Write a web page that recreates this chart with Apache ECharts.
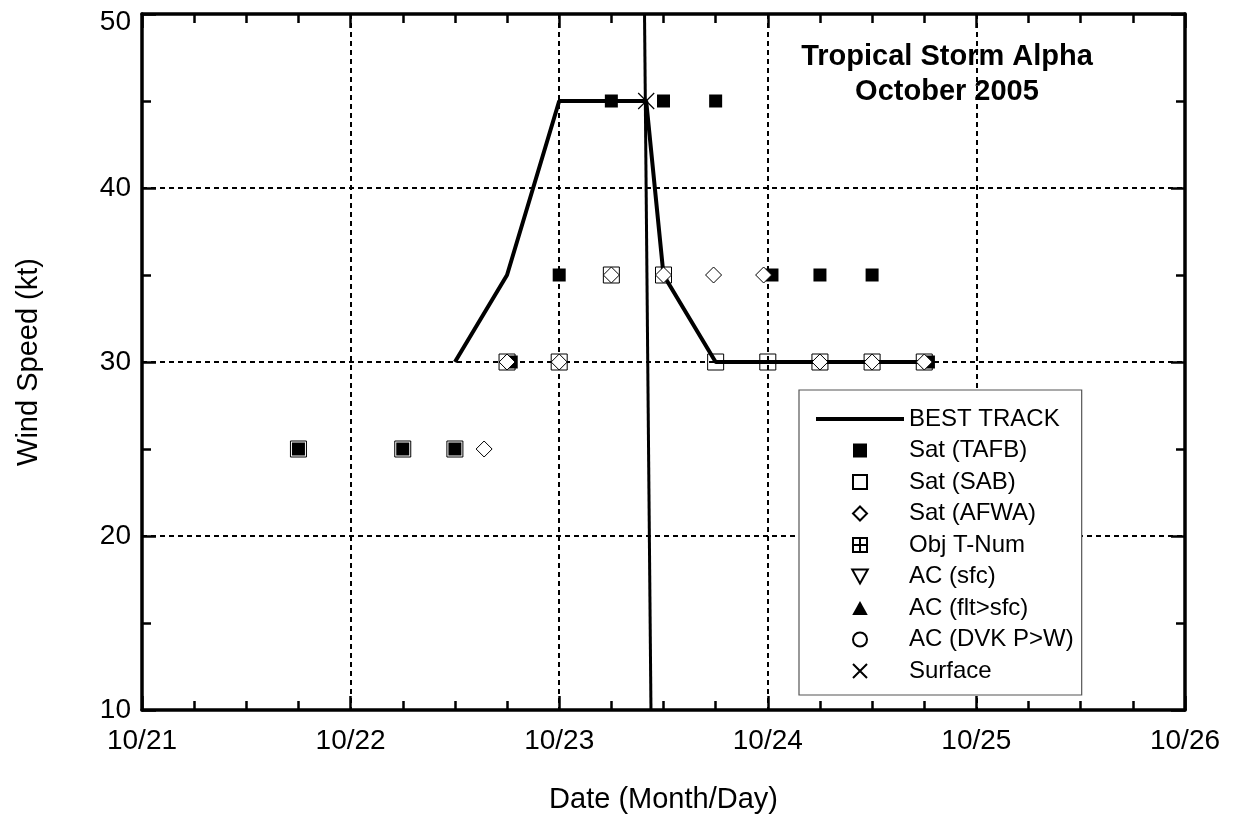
<!DOCTYPE html>
<html>
<head>
<meta charset="utf-8">
<script src="https://cdn.jsdelivr.net/npm/echarts@6/dist/echarts.min.js"></script>
<style>
html,body{margin:0;padding:0;background:#fff;}
#chart{width:1237px;height:819px;}
</style>
</head>
<body>
<div id="chart"></div>
<script>
// ---- data (x = day of October 2005, y = wind speed in kt) ----
const xTicks = [21, 22, 23, 24, 25, 26];
const yTicks = [10, 20, 30, 40, 50];
const bestTrackDays  = [22.5, 22.75, 23.0, 23.25, 23.417, 23.5, 23.75, 24.0, 24.25, 24.5, 24.75];
const bestTrackWinds = [30, 35, 45, 45, 45, 35, 30, 30, 30, 30, 30];
const tafbDays  = [21.75, 22.25, 22.5, 22.77, 23.0, 23.25, 23.5, 23.75, 24.02, 24.25, 24.5, 24.77];
const tafbWinds = [25, 25, 25, 30, 35, 45, 45, 45, 35, 35, 35, 30];
const sabDays  = [21.75, 22.25, 22.5, 22.75, 23.0, 23.25, 23.5, 23.75, 24.0, 24.25, 24.5, 24.75];
const sabWinds = [25, 25, 25, 30, 30, 35, 35, 30, 30, 30, 30, 30];
const afwaDays  = [22.64, 22.75, 23.0, 23.25, 23.5, 23.74, 23.98, 24.25, 24.5, 24.75];
const afwaWinds = [25, 30, 30, 35, 35, 35, 35, 30, 30, 30];
const surfaceDays  = [23.417];
const surfaceWinds = [45];
const landfallDays  = [23.409, 23.44];
const landfallWinds = [50, 10];
const legendNames = ['BEST TRACK', 'Sat (TAFB)', 'Sat (SAB)', 'Sat (AFWA)', 'Obj T-Num', 'AC (sfc)', 'AC (flt>sfc)', 'AC (DVK P>W)', 'Surface'];

const zip = (xs, ys) => xs.map((x, i) => [x, ys[i]]);
const FONT = 'Liberation Sans, Arial, Helvetica, sans-serif';

const SQUARE = 'path://M0,0H10V10H0Z';
const DIAMOND = 'path://M5,0L10,5L5,10L0,5Z';
const GRIDSQ = 'path://M0,0H10V10H0ZM5,0V10M0,5H10';
const TRI_DOWN = 'path://M0,0L10,0L5,9Z';
const TRI_UP = 'path://M5,0L10,9L0,9Z';
const CROSS = 'path://M0,0L10,10M10,0L0,10';

const chart = echarts.init(document.getElementById('chart'), null, {renderer: 'canvas'});

function xAxisBase(pos) {
  return {
    type: 'value', position: pos, min: xTicks[0], max: xTicks[xTicks.length - 1], interval: 1,
    axisLine: {show: true, onZero: false, lineStyle: {color: '#000', width: 3.5}},
    axisTick: {show: true, inside: true, length: 14, lineStyle: {color: '#000', width: 2.5}},
    minorTick: {show: true, splitNumber: 4, length: 9, lineStyle: {color: '#000', width: 2.5}},
    splitLine: {show: false},
    axisLabel: {show: false}
  };
}
function yAxisBase(pos) {
  return {
    type: 'value', position: pos, min: yTicks[0], max: yTicks[yTicks.length - 1], interval: 10,
    axisLine: {show: true, onZero: false, lineStyle: {color: '#000', width: 3.5}},
    axisTick: {show: true, inside: true, length: 14, lineStyle: {color: '#000', width: 2.5}},
    minorTick: {show: true, splitNumber: 2, length: 9, lineStyle: {color: '#000', width: 2.5}},
    splitLine: {show: false},
    axisLabel: {show: false}
  };
}

const xMain = Object.assign(xAxisBase('bottom'), {
  name: 'Date (Month/Day)', nameLocation: 'middle', nameGap: 75,
  nameTextStyle: {color: '#000', fontSize: 29, fontFamily: FONT},
  splitLine: {show: true, lineStyle: {color: '#000', width: 2, type: [5, 4]}},
  axisLabel: {show: true, color: '#000', fontSize: 28, fontFamily: FONT, margin: 17,
    formatter: v => '10/' + v}
});
const yMain = Object.assign(yAxisBase('left'), {
  name: 'Wind Speed (kt)', nameLocation: 'middle', nameGap: 99,
  nameTextStyle: {color: '#000', fontSize: 29, fontFamily: FONT},
  splitLine: {show: true, lineStyle: {color: '#000', width: 2, type: [5, 4]}},
  axisLabel: {show: true, color: '#000', fontSize: 28, fontFamily: FONT, margin: 11,
    formatter: v => v === yTicks[yTicks.length - 1] ? '{top|' + v + '}' : String(v),
    rich: {top: {fontSize: 28, fontFamily: FONT, color: '#000', padding: [16, 0, 0, 0]}}}
});

const openStyle = {color: 'rgba(0,0,0,0)', borderColor: '#000', borderWidth: 1, opacity: 1};

const option = {
  animation: false,
  backgroundColor: '#fff',
  title: {
    text: 'Tropical Storm Alpha\nOctober 2005',
    left: 947, top: 39, padding: 0, textAlign: 'center',
    textStyle: {color: '#000', fontSize: 29, fontWeight: 'bold', fontFamily: FONT, lineHeight: 35}
  },
  grid: {left: 142, right: 52, top: 14, bottom: 109, containLabel: false},
  xAxis: [xMain, xAxisBase('top')],
  yAxis: [yMain, yAxisBase('right')],
  legend: {
    orient: 'vertical', left: 799, top: 390,
    padding: [17, 8, 12, 17],
    backgroundColor: '#fff', borderColor: '#555', borderWidth: 1.2,
    itemWidth: 88, itemHeight: 14, itemGap: 7.5,
    textStyle: {color: '#000', fontSize: 24, fontFamily: FONT, lineHeight: 24},
    data: [
      {name: legendNames[0], icon: 'path://M0,0H88V4H0Z', itemStyle: {color: '#000', opacity: 1}},
      legendNames[1], legendNames[2], legendNames[3], legendNames[4],
      legendNames[5], legendNames[6], legendNames[7], legendNames[8]
    ],
    selectedMode: false
  },
  series: [
    {name: 'landfall', type: 'line', data: zip(landfallDays, landfallWinds), symbol: 'none',
      lineStyle: {color: '#000', width: 3}, z: 3, silent: true},
    {name: legendNames[0], type: 'line', data: zip(bestTrackDays, bestTrackWinds), symbol: 'none', showSymbol: false,
      color: '#000', itemStyle: {color: '#000'}, lineStyle: {color: '#000', width: 4}, z: 3},
    {name: legendNames[2], type: 'scatter', data: zip(sabDays, sabWinds), symbol: SQUARE, symbolSize: 16,
      itemStyle: openStyle, z: 4},
    {name: legendNames[1], type: 'scatter', data: zip(tafbDays, tafbWinds), symbol: SQUARE, symbolSize: 13,
      itemStyle: {color: '#000', opacity: 1}, z: 5},
    {name: legendNames[3], type: 'scatter', data: zip(afwaDays, afwaWinds), symbol: DIAMOND, symbolSize: 16,
      itemStyle: {color: '#fff', borderColor: '#000', borderWidth: 1, opacity: 1}, z: 6},
    {name: legendNames[4], type: 'scatter', data: [], symbol: GRIDSQ, symbolSize: 14,
      itemStyle: openStyle, z: 6},
    {name: legendNames[5], type: 'scatter', data: [], symbol: TRI_DOWN, symbolSize: 14,
      itemStyle: openStyle, z: 6},
    {name: legendNames[6], type: 'scatter', data: [], symbol: TRI_UP, symbolSize: 14,
      itemStyle: {color: '#000', opacity: 1}, z: 6},
    {name: legendNames[7], type: 'scatter', data: [], symbol: 'circle', symbolSize: 14,
      itemStyle: openStyle, z: 6},
    {name: legendNames[8], type: 'scatter', data: zip(surfaceDays, surfaceWinds), symbol: CROSS, symbolSize: 16,
      itemStyle: {color: 'rgba(0,0,0,0)', borderColor: '#000', borderWidth: 1.2, opacity: 1}, z: 7}
  ]
};
chart.setOption(option);
</script>
</body>
</html>
